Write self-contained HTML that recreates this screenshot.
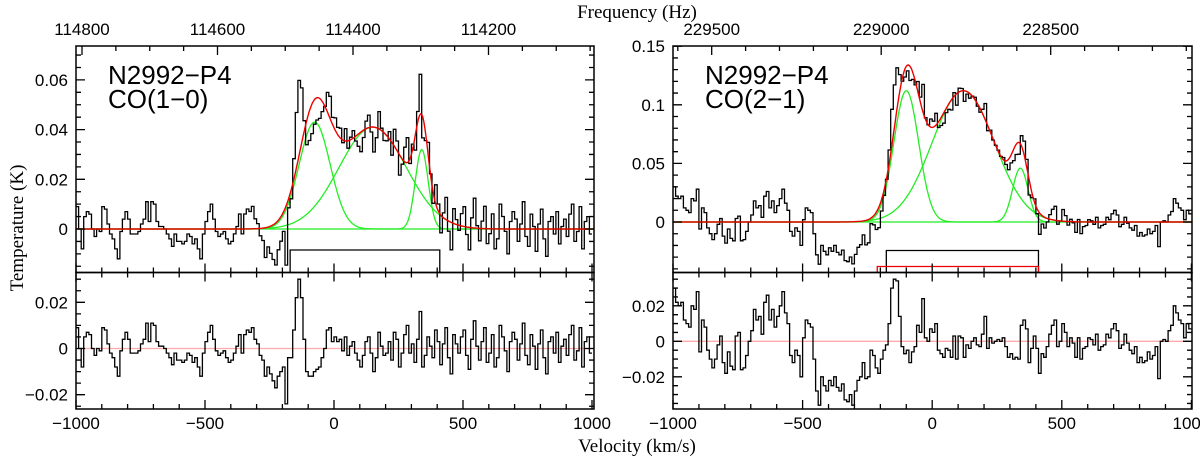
<!DOCTYPE html>
<html><head><meta charset="utf-8"><style>
html,body{margin:0;padding:0;background:#fff;}
svg{display:block;}
.t{font-family:"Liberation Sans",sans-serif;font-size:17px;fill:#000;}
.s{font-family:"Liberation Serif",serif;font-size:19px;fill:#000;}
.lab{font-family:"Liberation Sans",sans-serif;font-size:26px;fill:#000;}
</style></head><body>
<svg id="chart" width="1200" height="459" viewBox="0 0 1200 459">
<text class="s" x="637" y="18" text-anchor="middle">Frequency (Hz)</text>
<text class="s" x="637" y="452" text-anchor="middle">Velocity (km/s)</text>
<text class="s" x="0" y="0" text-anchor="middle" transform="translate(23,228) rotate(-90)">Temperature (K)</text>
</svg>
<script>
// ---- data ----
const binWidth = 10; // km/s
const velStart = -1000;
// left: CO(1-0) gaussian fit components
const leftAmp = [0.043, 0.041, 0.032];
const leftCen = [-75, 150, 340];
const leftSig = [60, 130, 25];
// residuals in mK
const leftResid = [
9,0,-8,5,7,6,0,-3,0,-1, 9,8,2,-2,-4,-8,-12,-1,4,7,
4,-2,-2,-2,-1,2,4,11,3,11, 10,3,1,1,0,-2,-4,-7,-2,-5,
-5,-6,-5,-2,-3,-6,-4,-8,-12,-2, 3,7,10,4,-1,-3,-2,-1,-4,-6,
-5,-2,1,6,-2,6,8,7,9,4, 2,-3,-5,-12,-8,-11,-14,-17,-12,-10,
-8,-24,-4,-4,8,22,30,22,4,-10, -12,-12,-10,-9,-8,-4,0,8,9,3,
5,3,4,-1,5,-3,1,3,-2,-5, -8,-3,3,5,-2,-10,-4,7,1,-3,
-2,3,-5,7,4,-8,-2,6,10,-2, 2,-6,4,16,-8,-3,5,1,-4,8,
3,-7,2,9,-4,-11,6,2,-2,5, 8,-3,-9,4,12,1,-5,3,9,-6,
-2,6,-8,-4,10,5,-1,-10,3,7, 4,-5,2,11,-3,-7,6,1,-9,2,
8,-4,-11,3,5,-2,7,-6,1,4, -3,6,10,-5,-1,9,-8,3,5,-2];
// right: CO(2-1)
const rightAmp = [0.112, 0.112, 0.046];
const rightCen = [-100, 120, 340];
const rightSig = [48, 120, 30];
const rightResid = [
30,22,20,22,12,10,8,20,18,28, -6,12,8,-5,-10,-15,-10,-2,3,-12,
-18,-6,-14,-16,3,5,-16,-15,-8,0, 6,18,12,14,4,22,26,12,18,8,
14,20,28,16,10,-8,-12,-5,-8,-20, 2,12,10,8,-10,-28,-36,-20,-25,-28,
-22,-25,-20,-26,-28,-24,-33,-34,-30,-36, -28,-22,-20,-12,-21,-20,-5,-8,-15,-18,
-10,-5,-2,10,30,35,34,14,-3,-7, -5,-12,-6,-3,9,5,24,2,0,7,
5,10,-5,-7,-9,-4,-5,-9,3,-10, 3,2,-9,-2,-4,0,2,-2,-3,4,
14,-4,2,-1,0,1,0,2,-3,-9, -7,-10,-9,-10,9,12,7,-12,-4,3,
-4,-18,-7,-9,-3,4,9,12,-3,0, 10,5,-3,2,-1,-9,2,-10,-4,-3,
2,1,-2,4,-5,-3,-2,4,2,7, 10,6,-4,-2,4,-1,-5,-7,-3,-12,
-9,-12,-11,-6,-10,-8,-3,-21,0,1, 0,6,9,20,16,12,10,2,10,7];
const leftBar = [-170, 410];
const rightBarBlack = [-177, 410];
const rightBarRed = [-212, 410];
const velTicks = [-1000, -500, 0, 500, 1000];
const leftTopYTicks = [0, 0.02, 0.04, 0.06];
const leftBotYTicks = [-0.02, 0, 0.02];
const rightTopYTicks = [0, 0.05, 0.1, 0.15];
const rightBotYTicks = [-0.02, 0, 0.02];
const leftFreqTicks = [114800, 114600, 114400, 114200];
const rightFreqTicks = [229500, 229000, 228500];

const NS = 'http://www.w3.org/2000/svg';
const svg = document.getElementById('chart');
function mk(tag, attrs, parent) {
  const e = document.createElementNS(NS, tag);
  for (const k in attrs) e.setAttribute(k, attrs[k]);
  (parent || svg).appendChild(e);
  return e;
}
function fmt(v) {
  if (Math.abs(v) < 1e-9) return '0';
  let s = String(+v.toFixed(3));
  return s.replace('-', '\u2212');
}
function gsum(v, A, C, S) { let s = 0; for (let i = 0; i < A.length; i++) s += A[i] * Math.exp(-Math.pow(v - C[i], 2) / (2 * S[i] * S[i])); return s; }

function panel(p) {
  const g = mk('g', {});
  
  
  const X = v => p.x0 + (v - (-1000)) * p.kx;
  const Yt = t => p.yt0 - t * p.kyt;
  const Yb = t => p.yb0 - t * p.kyb;
  const n = p.resid.length;
  const cid = 'clip' + p.id;
  const cp = mk('clipPath', { id: cid }, g);
  mk('rect', { x: p.L, y: p.T, width: p.R - p.L, height: p.M - p.T }, cp);
  const cid2 = 'clipb' + p.id;
  const cp2 = mk('clipPath', { id: cid2 }, g);
  mk('rect', { x: p.L, y: p.M, width: p.R - p.L, height: p.B - p.M }, cp2);
  const pl = mk('g', { 'clip-path': 'url(#' + cid + ')' }, g);
  const pb = mk('g', { 'clip-path': 'url(#' + cid2 + ')' }, g);
  for (let c = 0; c < p.A.length; c++) {
    let d = '';
    for (let v = -1000; v <= 1010; v += 4) {
      const y = Yt(p.A[c] * Math.exp(-Math.pow(v - p.C[c], 2) / (2 * p.S[c] * p.S[c])));
      d += (d ? 'L' : 'M') + X(v).toFixed(1) + ',' + y.toFixed(1);
    }
    const e = mk('path', { d: d, fill: 'none', stroke: '#22ee22', 'stroke-width': 1.3 }, pl);
    
    
  }
  let d = '', dr = '';
  for (let i = 0; i < n; i++) {
    const v0 = velStart + i * binWidth, v1 = v0 + binWidth, vc = v0 + binWidth / 2;
    const r = p.resid[i] / 1000;
    const obs = gsum(vc, p.A, p.C, p.S) + r;
    d += (i ? 'L' : 'M') + X(v0).toFixed(1) + ',' + Yt(obs).toFixed(1) + 'L' + X(v1).toFixed(1) + ',' + Yt(obs).toFixed(1);
    dr += (i ? 'L' : 'M') + X(v0).toFixed(1) + ',' + Yb(r).toFixed(1) + 'L' + X(v1).toFixed(1) + ',' + Yb(r).toFixed(1);
  }
  const sp = mk('path', { d: d, fill: 'none', stroke: '#000', 'stroke-width': 1.3 }, pl);
  
  
  let df = '';
  for (let v = -1000; v <= 1010; v += 4) df += (df ? 'L' : 'M') + X(v).toFixed(1) + ',' + Yt(gsum(v, p.A, p.C, p.S)).toFixed(1);
  const fp = mk('path', { d: df, fill: 'none', stroke: '#ee0000', 'stroke-width': 1.4 }, pl);
  
  
  const zl = mk('line', { x1: p.L, x2: p.R, y1: Yb(0), y2: Yb(0), stroke: '#ffaaaa', 'stroke-width': 1.3 }, pb);
  
  
  const rp = mk('path', { d: dr, fill: 'none', stroke: '#000', 'stroke-width': 1.3 }, pb);
  
  
  p.bars.forEach((b, i) => {
    const e = mk('path', { d: 'M' + X(b.r[0]) + ',' + p.M + 'V' + b.y + 'H' + X(b.r[1]) + 'V' + p.M, fill: 'none', stroke: b.c, 'stroke-width': 1.3 }, g);
    
    
  });
  const f1 = mk('rect', { x: p.L, y: p.T, width: p.R - p.L, height: p.M - p.T, fill: 'none', stroke: '#000', 'stroke-width': 1.5 }, g);
  
  
  const f2 = mk('rect', { x: p.L, y: p.M, width: p.R - p.L, height: p.B - p.M, fill: 'none', stroke: '#000', 'stroke-width': 1.5 }, g);
  
  
  let tk = '';
  for (let v = -1000; v <= 1000; v += 100) {
    const x = X(v), major = v % 500 === 0, len = major ? 9 : 5;
    tk += 'M' + x + ',' + p.B + 'v' + (-len) + 'M' + x + ',' + p.M + 'v' + (-len) + 'M' + x + ',' + p.M + 'v' + len;
  }
  for (let t = -0.04; t <= 0.16; t += p.minT) {
    const tt = +t.toFixed(4), y = Yt(tt);
    if (y < p.T || y > p.M) continue;
    const major = Math.abs(tt / p.majT - Math.round(tt / p.majT)) < 1e-6, len = major ? 9 : 5;
    tk += 'M' + p.L + ',' + y + 'h' + len + 'M' + p.R + ',' + y + 'h' + (-len);
  }
  for (let t = -0.04; t <= 0.04; t += 0.005) {
    const tt = +t.toFixed(4), y = Yb(tt);
    if (y < p.M || y > p.B) continue;
    const major = Math.abs(tt / 0.02 - Math.round(tt / 0.02)) < 1e-6, len = major ? 9 : 5;
    tk += 'M' + p.L + ',' + y + 'h' + len + 'M' + p.R + ',' + y + 'h' + (-len);
  }
  const F = f => p.f0x + (p.f0 - f) * p.fk;
  for (let f = p.f0 + p.fstep * 2; f >= p.f0 - p.fstep * 30; f -= p.fstep) {
    const x = F(f); if (x < p.L || x > p.R) continue;
    const major = p.fticks.indexOf(f) >= 0;
    tk += 'M' + x + ',' + p.T + 'v' + (major ? 9 : 5);
  }
  mk('path', { d: tk, stroke: '#000', 'stroke-width': 1.3, fill: 'none' }, g);
  velTicks.forEach(v => {
    const e = mk('text', { class: 't', x: X(v), y: 429, 'text-anchor': 'middle' }, g);
    e.textContent = fmt(v);
    
    
  });
  p.yTop.forEach(t => {
    const e = mk('text', { class: 't', x: p.L - 8, y: Yt(t) + 6, 'text-anchor': 'end' }, g);
    e.textContent = fmt(t);
    
    
  });
  p.yBot.forEach(t => {
    const e = mk('text', { class: 't', x: p.L - 8, y: Yb(t) + 6, 'text-anchor': 'end' }, g);
    e.textContent = fmt(t);
    
    
  });
  p.fticks.forEach(f => {
    const e = mk('text', { class: 't', x: F(f), y: 35, 'text-anchor': 'middle' }, g);
    e.textContent = String(f);
    
    
  });
  const l1 = mk('text', { class: 'lab', x: p.L + 32, y: 84 }, g);
  l1.textContent = 'N2992\u2212P4';
  
  
  const l2 = mk('text', { class: 'lab', x: p.L + 32, y: 108 }, g);
  l2.textContent = p.line;
  
  
}

panel({ id: 'L', name: 'co10-panel', L: 76, R: 594, T: 46, M: 272.5, B: 409,
  x0: 76, kx: 0.258, yt0: 229, kyt: 2485, yb0: 348.5, kyb: 2310, minT: 0.005, majT: 0.02,
  A: leftAmp, C: leftCen, S: leftSig, resid: leftResid,
  bars: [{ r: leftBar, y: 250, c: '#000' }],
  yTop: leftTopYTicks, yBot: leftBotYTicks,
  f0: 114800, f0x: 82, fk: 135.5 / 200, fstep: 50, fticks: leftFreqTicks, line: 'CO(1\u22120)' });
panel({ id: 'R', name: 'co21-panel', L: 673, R: 1192, T: 46, M: 272.5, B: 409,
  x0: 673, kx: 0.2592, yt0: 222, kyt: 1172, yb0: 341.3, kyb: 1775, minT: 0.01, majT: 0.05,
  A: rightAmp, C: rightCen, S: rightSig, resid: rightResid,
  bars: [{ r: rightBarBlack, y: 250.5, c: '#000' }, { r: rightBarRed, y: 266.5, c: '#ee0000' }],
  yTop: rightTopYTicks, yBot: rightBotYTicks,
  f0: 229500, f0x: 711.7, fk: 339 / 1000, fstep: 100, fticks: rightFreqTicks, line: 'CO(2\u22121)' });
</script>
</body></html>
